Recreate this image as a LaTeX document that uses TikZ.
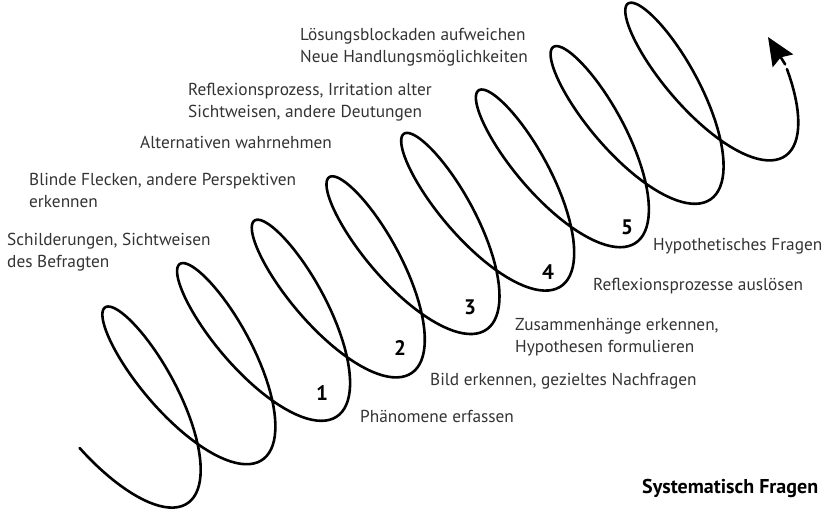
\documentclass[tikz,border=0pt]{standalone}
\usepackage{fontspec}
\setmainfont{PT Sans}
\usetikzlibrary{arrows.meta}
\begin{document}
\begin{tikzpicture}[x=1pt,y=-1pt,
  lbl/.style={font=\fontsize{17.3}{22}\selectfont, text=black!80, inner sep=0pt, anchor=base west, align=left},
  num/.style={font=\fontsize{21}{21}\selectfont\bfseries, text=black, inner sep=0pt, anchor=center},
  coil/.style={line width=2.6pt, draw=black, line cap=round, line join=round}]
\useasboundingbox (0,0) rectangle (825,514);
% coil (projected helix)
\draw[coil] plot[domain=-0.245:8.21, samples=700, variable=\t]
  ({127.1 + 74.7*\t + 59.1*cos(360*\t) + 31.1*sin(360*\t)},
   {416.5 - 43.4*\t + 87.6*cos(360*\t) - 18.1*sin(360*\t)});
\coordinate (arrowbase) at (785.2,64.4);
\coordinate (tip) at (768,37);
\draw[coil, -{Stealth[length=28pt,width=24pt,inset=4pt]}] (arrowbase) -- (tip);
% labels (base anchor = baseline of the last line)
\node[lbl] (l1) at (300,62.5) {Lösungsblockaden aufweichen\\Neue Handlungsmöglichkeiten};
\node[lbl] (l2) at (188,117.5) {Reflexionsprozess, Irritation alter\\Sichtweisen, andere Deutungen};
\node[lbl] (l3) at (140,148.5) {Alternativen wahrnehmen};
\node[lbl] (l4) at (29,207.5) {Blinde Flecken, andere Perspektiven\\erkennen};
\node[lbl] (l5) at (7,267.5) {Schilderungen, Sichtweisen\\des Befragten};
\node[lbl] (r5) at (653,250.5) {Hypothetisches Fragen};
\node[lbl] (r4) at (593,290.5) {Reflexionsprozesse auslösen};
\node[lbl] (r3) at (515,352.5) {Zusammenhänge erkennen,\\Hypothesen formulieren};
\node[lbl] (r2) at (430,385.3) {Bild erkennen, gezieltes Nachfragen};
\node[lbl] (r1) at (360,422.5) {Phänomene erfassen};
\node[lbl, font=\fontsize{20}{22}\selectfont\bfseries, text=black] (title) at (642,493.3) {Systematisch Fragen};
% numbers
\node[num] (n1) at (322,393) {1};
\node[num] (n2) at (400,348) {2};
\node[num] (n3) at (470,307) {3};
\node[num] (n4) at (548,272) {4};
\node[num] (n5) at (627,227) {5};
\end{tikzpicture}
\end{document}
